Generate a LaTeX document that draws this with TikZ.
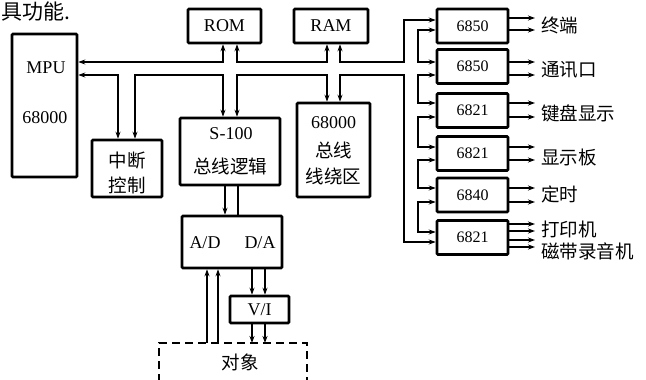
\documentclass[tikz,border=0pt]{standalone}
\usepackage{fontspec}
\setmainfont{Liberation Serif}
\newfontfamily\cjk{Noto Sans CJK SC}
\usetikzlibrary{arrows.meta}
\begin{document}
\begin{tikzpicture}[x=1pt,y=-1pt,
  blk/.style={draw,line width=2.6pt,inner sep=0pt,rounded corners=1pt},
  ln/.style={line width=1.8pt},
  tip/.tip={Stealth[length=7pt,width=5pt]},
  lt/.style={font=\fontsize{18}{20}\selectfont},
  st/.style={font=\fontsize{16}{18}\selectfont},
  ct/.style={font=\cjk\fontsize{18.5}{20}\selectfont},
  dsh/.style={line width=2.2pt,dash pattern=on 8pt off 5pt}]
\useasboundingbox[fill=white] (0,0) rectangle (646,380);

% top-left fragment of text
\node[anchor=west,font=\cjk\fontsize{21}{24}\selectfont,inner sep=0pt] (frag) at (1,12) {具功能.};

% boxes
\node[blk,minimum width=65pt,minimum height=143pt] (mpu) at (44.5,105.5) {};
\node[lt] (mpua) at (46,68) {MPU};
\node[lt] (mpub) at (45,118) {68000};
\node[blk,lt,minimum width=73pt,minimum height=34pt] (rom) at (224.5,26) {ROM};
\node[blk,lt,minimum width=74pt,minimum height=34pt] (ram) at (331,26) {RAM};
\node[blk,minimum width=70pt,minimum height=57pt] (intr) at (127,168.5) {};
\node[ct] (intra) at (127,160) {中断};
\node[ct] (intrb) at (127,185) {控制};
\node[blk,minimum width=100pt,minimum height=67pt] (s100) at (230,151.5) {};
\node[lt] (s100a) at (231,134) {S-100};
\node[ct] (s100b) at (230,166) {总线逻辑};
\node[blk,minimum width=73pt,minimum height=94pt] (wrap) at (333.5,150) {};
\node[lt] (wrapa) at (333.5,123) {68000};
\node[ct] (wrapb) at (333.5,150) {总线};
\node[ct] (wrapc) at (333.5,176) {线绕区};
\node[blk,minimum width=100pt,minimum height=52pt] (adda) at (232,242) {};
\node[lt] (ad) at (205,243) {A/D};
\node[lt] (da) at (260,243) {D/A};
\node[blk,lt,minimum width=59pt,minimum height=27pt] (vi) at (259.5,309.5) {V/I};

\foreach \n/\y/\t in {1/26/6850,2/66.5/6850,3/110.5/6821,4/153.5/6821,5/195/6840,6/237.5/6821}
  \node[blk,st,minimum width=71pt,minimum height=34pt] (c\n) at (472.5,\y) {\t};

% object (dashed)
\draw[dsh] (159,395) -- (159,343) -- (307,343) -- (307,395);
\coordinate (obj) at (233,343);
\node[ct] (objt) at (240,362) {对象};

% bus, upper line
\draw[ln,tip-tip] (mpu.east |- 0,62) -- (223,62) -- (223,0 |- rom.south);
\draw[ln,tip-tip] (237,0 |- rom.south) -- (237,62) -- (327,62) -- (327,0 |- ram.south);
\draw[ln,tip-tip] (340,0 |- ram.south) -- (340,62) -- (404,62) -- (404,20) -- (c1.west |- 0,20);
% bus, lower line
\draw[ln,tip-tip] (mpu.east |- 0,75) -- (118,75) -- (118,0 |- intr.north);
\draw[ln,tip-tip] (135,0 |- intr.north) -- (135,75) -- (223,75) -- (223,0 |- s100.north);
\draw[ln,tip-tip] (237,0 |- s100.north) -- (237,75) -- (327,75) -- (327,0 |- wrap.north);
\draw[ln,tip-tip] (340,0 |- wrap.north) -- (340,75) -- (404,75) -- (404,242) -- (c6.west |- 0,242);
% inner chain of the I/O column
\foreach \a/\b/\ya/\yb in {1/2/30/62,2/3/75/103,3/4/117/147,4/5/160/188,5/6/202/232}
  \draw[ln,tip-tip] (c\a.west |- 0,\ya) -- (418,\ya) -- (418,\yb) -- (c\b.west |- 0,\yb);

% outputs of the I/O column
\foreach \n/\ya/\yb in {1/18/30,2/62/75,3/103/117,4/147/160,5/188/202}{
  \draw[ln,-tip] (c\n.east |- 0,\ya) -- (535,\ya);
  \draw[ln,-tip] (c\n.east |- 0,\yb) -- (535,\yb);}
\foreach \y in {224,231,240,247}
  \draw[ln,-tip] (c6.east |- 0,\y) -- (535,\y);

\foreach \t/\y in {终端/25,通讯口/70,键盘显示/113,显示板/157,定时/194,打印机/229,磁带录音机/251}
  \node[ct,anchor=west,inner sep=0pt] at (541,\y) {\t};

% S-100 to A/D, D/A, V/I, object
\draw[ln,-tip] (225,0 |- s100.south) -- (225,0 |- adda.north);
\draw[ln] (238,0 |- s100.south) -- (238,0 |- adda.north);
\draw[ln,-tip] (207,0 |- obj) -- (207,0 |- adda.south);
\draw[ln,-tip] (218,0 |- obj) -- (218,0 |- adda.south);
\draw[ln,-tip] (252,0 |- adda.south) -- (252,0 |- vi.north);
\draw[ln,-tip] (265,0 |- adda.south) -- (265,0 |- vi.north);
\draw[ln,-tip] (252,0 |- vi.south) -- (252,0 |- obj);
\draw[ln,-tip] (265,0 |- vi.south) -- (265,0 |- obj);
\end{tikzpicture}
\end{document}
